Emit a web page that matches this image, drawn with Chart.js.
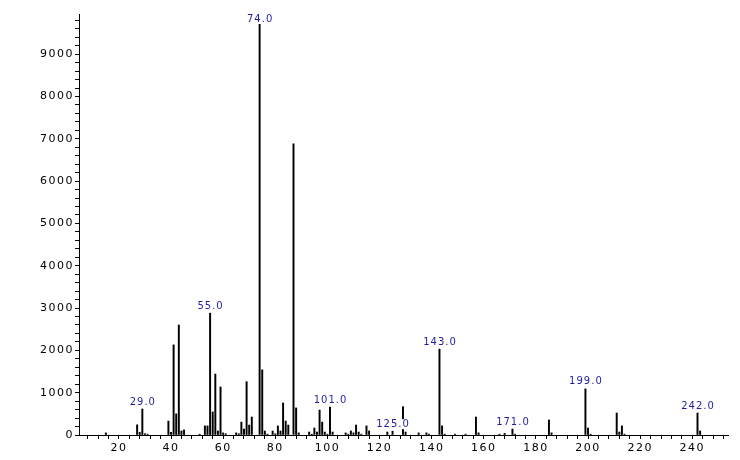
<!DOCTYPE html>
<html>
<head>
<meta charset="utf-8">
<script src="https://cdn.jsdelivr.net/npm/chart.js@4"></script>
<style>
  html, body { margin: 0; padding: 0; background: #fff; }
  #wrap { width: 740px; height: 460px; }
</style>
</head>
<body>
<div id="wrap"><canvas id="msChart"></canvas></div>
<script>
// m/z values and their abundances
const mzValues = [
  15, 27, 28, 29, 30, 31, 39, 40, 41, 42, 43, 44, 45, 51, 53, 54, 55, 56, 57, 58,
  59, 60, 61, 65, 66, 67, 68, 69, 70, 71, 74, 75, 76, 77, 79, 80, 81, 82, 83, 84,
  85, 87, 88, 89, 93, 94, 95, 96, 97, 98, 99, 100, 101, 102, 107, 108, 109, 110,
  111, 112, 113, 115, 116, 123, 125, 129, 130, 135, 138, 139, 143, 144, 145, 149,
  153, 157, 158, 166, 168, 171, 172, 185, 186, 199, 200, 201, 211, 212, 213, 214,
  242, 243
];
const abundances = [
  50, 240, 65, 615, 30, 20, 330, 65, 2130, 500, 2600, 95, 120, 20, 215, 215, 2880, 545, 1440, 95,
  1135, 50, 30, 50, 30, 305, 140, 1260, 235, 425, 9950, 1540, 95, 20, 95, 30, 215, 95, 755, 330,
  235, 6880, 640, 50, 70, 20, 165, 70, 590, 305, 70, 20, 660, 70, 50, 20, 95, 50,
  235, 70, 20, 215, 95, 70, 90, 670, 70, 50, 50, 20, 2030, 215, 20, 20,
  20, 425, 50, 20, 40, 140, 20, 355, 50, 1090, 165, 20, 520, 70, 215, 20,
  520, 95
];
const labeledPeaks = [29, 55, 74, 101, 125, 143, 171, 199, 242];

const xTickValues = [];
for (let v = 8; v <= 252; v += 4) xTickValues.push(v);
const yTickValues = [];
for (let v = 0; v <= 9800; v += 200) yTickValues.push(v);

const peakPoints = mzValues.map((mz, i) => ({ x: mz, y: abundances[i] }));

// the old plotting software used a wide font, so space the letters out a bit
const wideText = {
  id: "wideText",
  beforeDraw(chart) {
    chart.ctx.letterSpacing = "1.5px";
  },
};

// labels above the marked peaks, with a white box behind the text
const peakLabels = {
  id: "peakLabels",
  afterDatasetsDraw(chart) {
    const { ctx, scales, chartArea } = chart;
    ctx.save();
    ctx.letterSpacing = "1px";
    ctx.font = "10px 'DejaVu Sans'";
    ctx.textAlign = "left";
    ctx.textBaseline = "middle";
    labeledPeaks.forEach((mz) => {
      const idx = mzValues.indexOf(mz);
      if (idx < 0) return;
      const px = scales.x.getPixelForValue(mz);
      const top = scales.y.getPixelForValue(abundances[idx]);
      const py = Math.max(top - 7, chartArea.top + 5);
      const text = mz.toFixed(1);
      const w = ctx.measureText(text).width - 1;
      ctx.fillStyle = "#fff";
      ctx.fillRect(px - w / 2 - 1, py - 5, w + 2, 10);
      ctx.fillStyle = "#1f1f9f";
      ctx.fillText(text, px - w / 2, py);
    });
    ctx.restore();
  },
};

Chart.defaults.font.family = "'DejaVu Sans'";
Chart.defaults.color = "#000";

new Chart(document.getElementById("msChart"), {
  type: "bar",
  data: {
    datasets: [
      {
        data: peakPoints,
        backgroundColor: "#000",
        borderWidth: 0,
        barThickness: 1.3,
      },
    ],
  },
  options: {
    responsive: true,
    maintainAspectRatio: false,
    animation: false,
    layout: { padding: { left: 0, top: 14, right: 12, bottom: 0 } },
    plugins: {
      legend: { display: false },
      tooltip: { enabled: false },
    },
    scales: {
      x: {
        type: "linear",
        min: 4.7,
        max: 253.7,
        offset: false,
        afterBuildTicks: (scale) => {
          scale.ticks = xTickValues.map((v) => ({ value: v }));
        },
        afterFit: (scale) => {
          scale.height = 25;
        },
        ticks: {
          autoSkip: false,
          maxRotation: 0,
          padding: 3,
          font: { size: 11 },
          callback: (value) => (value % 20 === 0 ? value : ""),
        },
        grid: {
          offset: false,
          drawOnChartArea: false,
          tickLength: 4,
          color: "#000",
        },
        border: { color: "#000", width: 1 },
      },
      y: {
        min: 0,
        max: 9950,
        afterBuildTicks: (scale) => {
          scale.ticks = yTickValues.map((v) => ({ value: v }));
        },
        afterFit: (scale) => {
          scale.width = 79;
        },
        ticks: {
          autoSkip: false,
          padding: 1,
          font: { size: 11 },
          callback: (value) => (value % 1000 === 0 ? value : ""),
        },
        grid: {
          drawOnChartArea: false,
          tickLength: 4,
          color: "#000",
        },
        border: { color: "#000", width: 1 },
      },
    },
  },
  plugins: [wideText, peakLabels],
});
</script>
</body>
</html>
